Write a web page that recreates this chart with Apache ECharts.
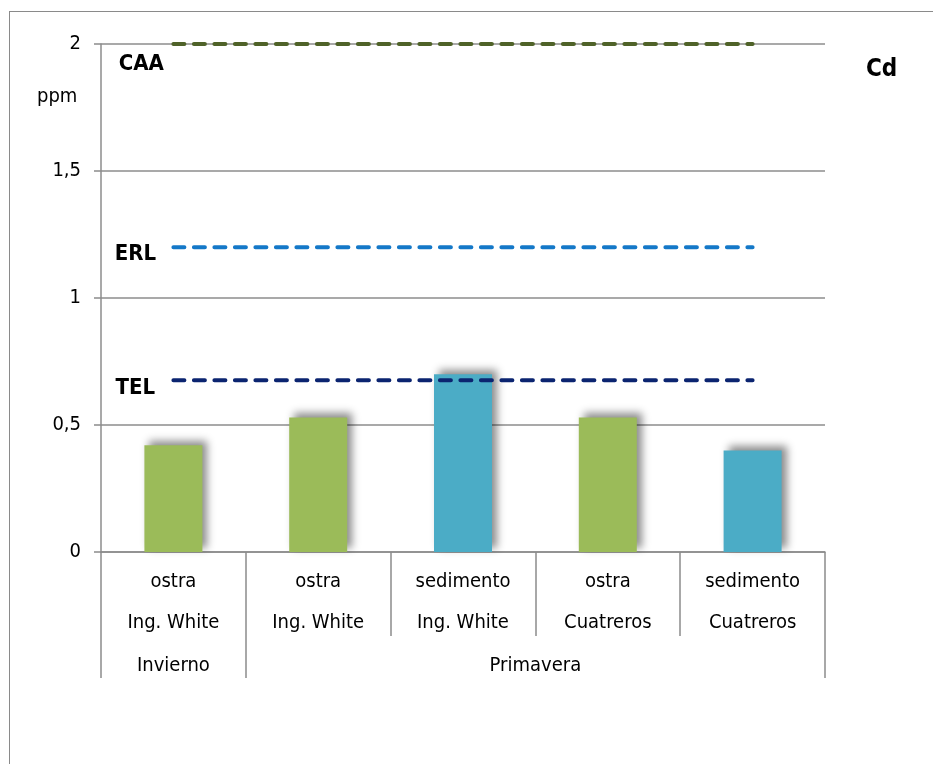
<!DOCTYPE html>
<html>
<head>
<meta charset="utf-8">
<script src="https://cdn.jsdelivr.net/npm/echarts@6/dist/echarts.min.js"></script>
<style>
  html, body { margin: 0; padding: 0; background: #fff; }
  #wrap { position: relative; width: 933px; height: 764px; overflow: hidden; }
  #frame { position: absolute; left: 9px; top: 11px; width: 1200px; height: 1200px;
           border-left: 1px solid #8a8a8a; border-top: 1px solid #8a8a8a; }
  #chart { position: absolute; left: 0; top: 0; width: 933px; height: 764px; }
</style>
</head>
<body>
<div id="wrap"><div id="frame"></div><div id="chart"></div></div>
<script>
// ---- data ----
const sampleTypes = ['ostra', 'ostra', 'sedimento', 'ostra', 'sedimento'];
const sites = ['Ing. White', 'Ing. White', 'Ing. White', 'Cuatreros', 'Cuatreros'];
const seasons = ['Invierno', 'Primavera'];
const seasonSizes = [1, 4];
const cdValues = [0.42, 0.53, 0.70, 0.53, 0.40];
const caaLine = [2, 2, 2, 2, 2];
const erlLine = [1.2, 1.2, 1.2, 1.2, 1.2];
const telLine = [0.676, 0.676, 0.676, 0.676, 0.676];
const yTicks = [0, 0.5, 1, 1.5, 2];

// ---- derived ----
const categories = sampleTypes.map((t, i) => t + '\n' + sites[i]);
const typeColors = { ostra: '#9BBB59', sedimento: '#4BACC6' };
const groupBounds = [0];
seasonSizes.forEach(s => groupBounds.push(groupBounds[groupBounds.length - 1] + s));
const groupCenters = seasons.map((s, i) => (groupBounds[i] + groupBounds[i + 1]) / 2);

const FONT = '"DejaVu Sans Condensed", "DejaVu Sans"';
const GRAY = '#8c8c8c';
const FS = 20;

function refLine(name, data, color, labelPos) {
  return {
    name: name, type: 'line', xAxisIndex: 0, yAxisIndex: 0,
    data: data.map((v, i) => i === 0
      ? { value: v, label: { show: true } }
      : v),
    symbol: 'circle', symbolSize: 0.1, showSymbol: true,
    itemStyle: { color: 'rgba(0,0,0,0)' },
    lineStyle: { color: color, width: 4, type: [11, 9.5], cap: 'round' },
    label: {
      show: false, formatter: name, position: labelPos,
      align: 'center', verticalAlign: 'middle',
      fontFamily: FONT, fontWeight: 'bold', fontSize: 22, color: '#000'
    },
    silent: true, z: 3, animation: false
  };
}

const chart = echarts.init(document.getElementById('chart'), null, { renderer: 'canvas' });
chart.setOption({
  animation: false,
  backgroundColor: 'transparent',
  title: [
    { text: 'Cd', left: 861, top: 53,
      textStyle: { fontFamily: FONT, fontWeight: 'bold', fontSize: 24, color: '#000' } },
    { text: 'ppm', left: 32, top: 82,
      textStyle: { fontFamily: FONT, fontWeight: 'normal', fontSize: FS, color: '#000' } }
  ],
  grid: { left: 101, right: 108, top: 44, bottom: 212, containLabel: false },
  xAxis: [
    {
      type: 'category', data: categories, position: 'bottom',
      axisLine: { show: true, lineStyle: { color: GRAY, width: 1.5 } },
      axisTick: { show: true, alignWithLabel: false, length: 84, lineStyle: { color: GRAY, width: 1.5 } },
      axisLabel: { interval: 0, margin: 9, lineHeight: 41.5, fontFamily: FONT, fontSize: FS, color: '#000' },
      splitLine: { show: false }
    },
    {
      type: 'value', min: 0, max: groupBounds[groupBounds.length - 1], position: 'bottom',
      axisLine: { show: false },
      axisTick: { show: true, length: 126, customValues: groupBounds, lineStyle: { color: GRAY, width: 1.5 } },
      axisLabel: {
        show: true, margin: 93, lineHeight: 41.5, customValues: groupCenters,
        formatter: v => { const i = groupCenters.indexOf(v); return i >= 0 ? seasons[i] : ''; },
        fontFamily: FONT, fontSize: FS, color: '#000'
      },
      splitLine: { show: false }
    }
  ],
  yAxis: {
    type: 'value', min: yTicks[0], max: yTicks[yTicks.length - 1], interval: yTicks[1] - yTicks[0],
    axisLine: { show: true, lineStyle: { color: GRAY, width: 1.5 } },
    axisTick: { show: true, length: 7, lineStyle: { color: GRAY, width: 1.5 } },
    axisLabel: { margin: 20, fontFamily: FONT, fontSize: FS, color: '#000',
      formatter: v => String(v).replace('.', ',') },
    splitLine: { show: true, lineStyle: { color: GRAY, width: 1.5 } }
  },
  series: [
    {
      name: 'Cd', type: 'bar', xAxisIndex: 0, yAxisIndex: 0, barWidth: 58,
      data: cdValues.map((v, i) => ({ value: v, itemStyle: { color: typeColors[sampleTypes[i]] } })),
      itemStyle: { shadowBlur: 8, shadowOffsetX: 5, shadowOffsetY: -4, shadowColor: 'rgba(0,0,0,0.45)' },
      z: 2
    },
    refLine('CAA', caaLine, '#4F6228', [-32, 20]),
    refLine('ERL', erlLine, '#1478C8', [-38, 7]),
    refLine('TEL', telLine, '#0B2470', [-38, 8])
  ]
});
</script>
</body>
</html>
